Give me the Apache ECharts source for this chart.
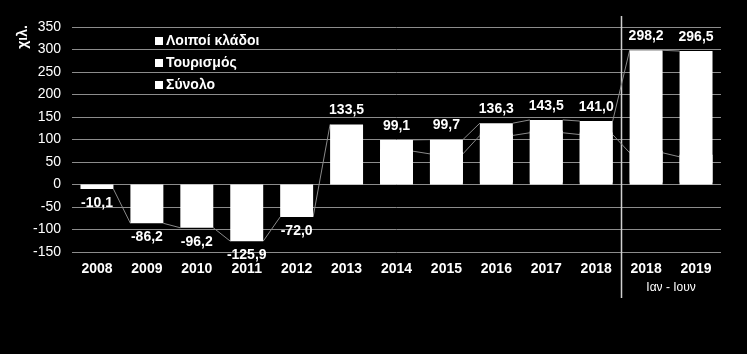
<!DOCTYPE html>
<html>
<head>
<meta charset="utf-8">
<script src="https://cdn.jsdelivr.net/npm/echarts@6/dist/echarts.min.js"></script>
<style>
  html, body { margin: 0; padding: 0; background: #000; }
  #chart { width: 747px; height: 354px; }
</style>
</head>
<body>
<div id="chart"></div>
<script>
// periods on the x axis (last two = Jan-Jun)
var years = ['2008', '2009', '2010', '2011', '2012', '2013', '2014', '2015', '2016', '2017', '2018', '2018', '2019'];
// total only, 2008-2013
var synolo = [-10.1, -86.2, -96.2, -125.9, -72.0, 133.5, null, null, null, null, null, null, null];
// split 2014 onwards
var loipoi = [null, null, null, null, null, null, 74.0, 68.0, 109.0, 115.0, 111.0, 70.5, 61.5];
var tourismos = [null, null, null, null, null, null, 25.1, 31.7, 27.3, 28.5, 30.0, 227.7, 235.0];

var FONT = '"Liberation Sans", Arial, sans-serif';
var BAR = 0.66;

function fmt(v) {
  return v.toFixed(1).replace('.', ',');
}

function total(i) {
  if (loipoi[i] == null || tourismos[i] == null) return null;
  return loipoi[i] + tourismos[i];
}

// excel-like series lines between neighbouring bars
function renderLinks(params, api) {
  var i = api.value(0);
  if (i >= years.length - 1) return;
  var half = api.size([1, 0])[0] * BAR / 2;
  var x0 = api.coord([i, 0])[0] + half;
  var x1 = api.coord([i + 1, 0])[0] - half;
  var levels = [
    [synolo[i], synolo[i + 1]],
    [loipoi[i], loipoi[i + 1]],
    [total(i), total(i + 1)]
  ];
  var children = [];
  levels.forEach(function (l) {
    if (l[0] == null || l[1] == null) return;
    children.push({
      type: 'line',
      shape: { x1: x0, y1: api.coord([i, l[0]])[1], x2: x1, y2: api.coord([i + 1, l[1]])[1] },
      style: { stroke: '#8a8a8a', lineWidth: 1 }
    });
  });
  return { type: 'group', children: children };
}

var chart = echarts.init(document.getElementById('chart'));

var labelStyle = {
  show: true,
  color: '#fff',
  fontFamily: FONT,
  fontWeight: 'bold',
  fontSize: 14,
  distance: 7
};

var option = {
  backgroundColor: '#000',
  animation: false,
  textStyle: { fontFamily: FONT },
  grid: { left: 72, right: 26, top: 27, bottom: 102 },
  legend: {
    data: ['Λοιποί κλάδοι', 'Τουρισμός', 'Σύνολο'],
    orient: 'vertical',
    left: 150,
    top: 29,
    icon: 'rect',
    itemWidth: 8,
    itemHeight: 8,
    itemGap: 8,
    textStyle: { color: '#fff', fontSize: 14, fontWeight: 'bold', fontFamily: FONT, padding: [0, 0, 0, -2] }
  },
  xAxis: {
    type: 'category',
    data: years,
    axisLine: { show: false },
    axisTick: { show: false },
    axisLabel: { color: '#fff', fontSize: 14, fontWeight: 'bold', margin: 10, fontFamily: FONT, interval: 0 }
  },
  yAxis: {
    type: 'value',
    min: -150,
    max: 350,
    interval: 50,
    axisLine: { show: false },
    axisTick: { show: false },
    axisLabel: { color: '#fff', fontSize: 14, margin: 11, fontFamily: FONT },
    splitLine: { lineStyle: { color: '#8c8c8c', width: 1 } }
  },
  series: [
    {
      name: 'Σύνολο',
      type: 'bar',
      stack: 'a',
      barWidth: (BAR * 100) + '%',
      itemStyle: { color: '#fff' },
      label: Object.assign({}, labelStyle, {
        position: 'outside',
        formatter: function (p) { return fmt(p.value); }
      }),
      data: synolo
    },
    {
      name: 'Λοιποί κλάδοι',
      type: 'bar',
      stack: 'a',
      // white shadow pushed up a bit covers the seam with the piece above
      itemStyle: { color: '#fff', shadowColor: '#fff', shadowBlur: 0, shadowOffsetY: -2 },
      data: loipoi
    },
    {
      name: 'Τουρισμός',
      type: 'bar',
      stack: 'a',
      itemStyle: { color: '#fff' },
      label: Object.assign({}, labelStyle, {
        position: 'top',
        formatter: function (p) { return fmt(total(p.dataIndex)); }
      }),
      data: tourismos
    },
    {
      type: 'custom',
      silent: true,
      renderItem: renderLinks,
      encode: { x: 0, y: 1 },
      data: years.map(function (y, i) { return [i, 0]; }),
      z: 1
    }
  ]
};

chart.setOption(option);

// separator between full years and Jan-Jun, plus the period note
var xa = chart.convertToPixel({ xAxisIndex: 0 }, 10);
var xb = chart.convertToPixel({ xAxisIndex: 0 }, 11);
var xc = chart.convertToPixel({ xAxisIndex: 0 }, 12);
var sepX = Math.round((xa + xb) / 2) + 0.5;

chart.setOption({
  graphic: [
    {
      type: 'line',
      shape: { x1: sepX, y1: 16, x2: sepX, y2: 298 },
      style: { stroke: '#d0d0d0', lineWidth: 1.5 },
      silent: true
    },
    {
      type: 'text',
      x: (xb + xc) / 2,
      y: 288,
      style: { text: 'Ιαν - Ιουν', fill: '#fff', font: '12px ' + FONT, textAlign: 'center', textVerticalAlign: 'middle' },
      silent: true
    },
    {
      type: 'text',
      x: 23,
      y: 37,
      rotation: Math.PI / 2,
      style: { text: 'χιλ.', fill: '#fff', font: 'bold 14px ' + FONT, textAlign: 'center', textVerticalAlign: 'middle' },
      silent: true
    }
  ]
});
</script>
</body>
</html>
